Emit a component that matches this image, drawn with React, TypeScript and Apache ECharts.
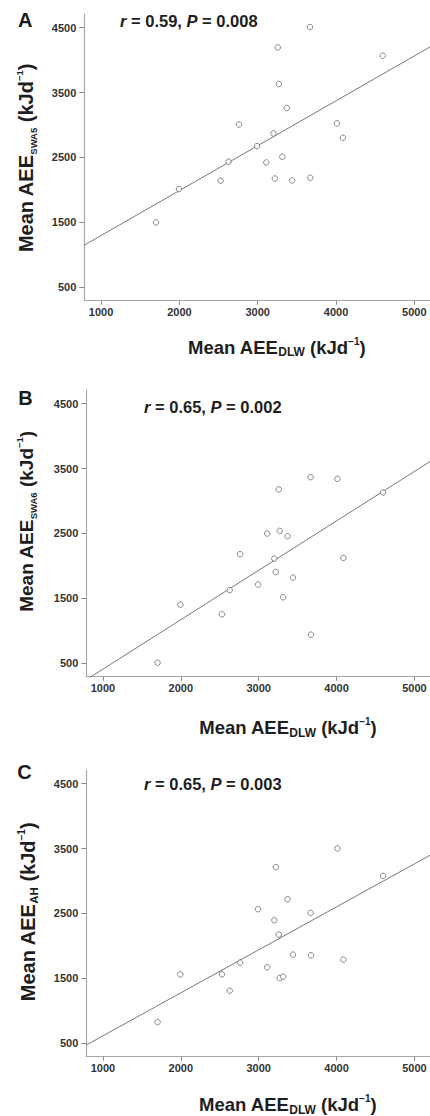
import React, { useEffect, useRef } from "react";
import * as echarts from "echarts";

// ---- data ----
const dlw = [3667, 3257, 4597, 3269, 3370, 2761, 4011, 4087, 3201, 2992, 2628, 3314, 3109, 2527, 3219, 3440, 3672, 1994, 1701];
const swa5 = [4511, 4196, 4068, 3632, 3261, 3008, 3024, 2803, 2870, 2675, 2433, 2510, 2422, 2140, 2175, 2145, 2186, 2012, 1497];
const swa6 = [3368, 3178, 3132, 2539, 2457, 2179, 3342, 2122, 2112, 1711, 1627, 1515, 2498, 1252, 1905, 1819, 939, 1402, 506];
const ah = [2508, 2173, 3079, 1504, 2719, 1742, 3502, 1788, 2395, 2565, 1309, 1525, 1669, 1561, 3213, 1865, 1854, 1561, 824];

const xTicks = [1000, 2000, 3000, 4000, 5000];
const yTicks = [500, 1500, 2500, 3500, 4500];
const panelLetters = ["A", "B", "C"];
const statR = ["0.59", "0.65", "0.65"];
const statP = ["0.008", "0.002", "0.003"];
const ySubs = ["SWA5", "SWA6", "AH"];

const X_MIN = 786;
const X_MAX = 5200;
const Y_MIN = 290;
const Y_MAX = 4712;

const FONT = "'Liberation Sans', Arial, Helvetica, sans-serif";

function fit(xs: number[], ys: number[]) {
  const n = xs.length;
  const mx = xs.reduce((a, b) => a + b, 0) / n;
  const my = ys.reduce((a, b) => a + b, 0) / n;
  let sxy = 0;
  let sxx = 0;
  for (let i = 0; i < n; i++) {
    sxy += (xs[i] - mx) * (ys[i] - my);
    sxx += (xs[i] - mx) * (xs[i] - mx);
  }
  const b = sxy / sxx;
  return { a: my - b * mx, b };
}

export default function App() {
  const ref = useRef<HTMLDivElement>(null);

  useEffect(() => {
    if (!ref.current) return;
    const chart = echarts.init(ref.current, undefined, { renderer: "svg" });

    const ySets = [swa5, swa6, ah];
    const grids = [
      { left: 84.3, top: 14, width: 351, height: 286.7 },
      { left: 86.3, top: 390, width: 351, height: 286.7 },
      { left: 86.3, top: 770, width: 351, height: 286.7 },
    ];

    const labelStyle = {
      fontSize: 11,
      fontWeight: "bold",
      fontFamily: FONT,
      color: "#333",
      formatter: (v: number) => String(v),
    };

    const xAxes = grids.map((_, i) => ({
      type: "value",
      gridIndex: i,
      min: X_MIN,
      max: X_MAX,
      splitLine: { show: false },
      axisLine: { show: true, lineStyle: { color: "#a8a8a8", width: 1.2 } },
      axisTick: { show: true, length: 4, customValues: xTicks, lineStyle: { color: "#888", width: 1 } },
      axisLabel: { ...labelStyle, customValues: xTicks, margin: 6 },
    }));

    const yAxes = grids.map((_, i) => ({
      type: "value",
      gridIndex: i,
      min: Y_MIN,
      max: Y_MAX,
      splitLine: { show: false },
      axisLine: { show: true, lineStyle: { color: "#a8a8a8", width: 1.2 } },
      axisTick: { show: true, length: 5, customValues: yTicks, lineStyle: { color: "#888", width: 1 } },
      axisLabel: { ...labelStyle, customValues: yTicks, margin: 8 },
    }));

    const series: any[] = [];
    ySets.forEach((ys, i) => {
      const { a, b } = fit(dlw, ys);
      series.push({
        type: "line",
        xAxisIndex: i,
        yAxisIndex: i,
        data: [
          [X_MIN, a + b * X_MIN],
          [X_MAX, a + b * X_MAX],
        ],
        showSymbol: false,
        clip: true,
        lineStyle: { color: "#777", width: 1 },
        z: 2,
      });
      series.push({
        type: "scatter",
        xAxisIndex: i,
        yAxisIndex: i,
        data: dlw.map((x, k) => [x, ys[k]]),
        symbol: "circle",
        symbolSize: 5.5,
        itemStyle: { color: "#fff", borderColor: "#6a6a6a", borderWidth: 1 },
        z: 3,
      });
    });

    const tok = (size: number, extra: any = {}) => ({
      fontFamily: FONT,
      fontWeight: "bold",
      fontSize: size,
      fill: "#1e1e1e",
      color: "#1e1e1e",
      ...extra,
    });

    const graphics: any[] = [];

    // panel letters
    const letterPos = [
      [18, 20],
      [18.3, 398],
      [17.3, 772.3],
    ];
    panelLetters.forEach((L, i) => {
      graphics.push({
        type: "text",
        x: letterPos[i][0],
        y: letterPos[i][1],
        style: {
          text: L,
          fontFamily: FONT,
          fontWeight: "bold",
          fontSize: 20,
          fill: "#1a1a1a",
          align: "left",
          textAlign: "left",
          verticalAlign: "middle",
          textVerticalAlign: "middle",
        },
      });
    });

    // stats annotations
    const statPos = [
      [120, 21.4],
      [144, 406.5],
      [144, 784.2],
    ];
    statR.forEach((r, i) => {
      graphics.push({
        type: "text",
        x: statPos[i][0],
        y: statPos[i][1],
        style: {
          text: `{i|r}{m| = ${r}, }{i|P}{m| = ${statP[i]}}`,
          align: "left",
          textAlign: "left",
          verticalAlign: "middle",
          textVerticalAlign: "middle",
          rich: {
            i: tok(16.5, { fontStyle: "italic", lineHeight: 20, verticalAlign: "middle" }),
            m: tok(16.5, { lineHeight: 20, verticalAlign: "middle" }),
          },
        },
      });
    });

    // x-axis titles
    const xTitlePos = [
      [276.7, 347],
      [287.8, 727.7],
      [287.7, 1104.5],
    ];
    xTitlePos.forEach((p) => {
      graphics.push({
        type: "text",
        x: p[0],
        y: p[1],
        style: {
          text: "{m|Mean AEE}{s|DLW}{m| (kJd}{p|\u22121}{m|)}",
          align: "center",
          textAlign: "center",
          verticalAlign: "middle",
          textVerticalAlign: "middle",
          rich: {
            m: tok(18.5, { lineHeight: 22, verticalAlign: "middle" }),
            s: tok(12, { lineHeight: 13.4, verticalAlign: "bottom" }),
            p: tok(10, { lineHeight: 13.8, verticalAlign: "top" }),
          },
        },
      });
    });

    // y-axis titles (rotated)
    const yTitleCfg = [
      { x: 26.3, y: 158, F: 20, s: 9.5, hs: 16.6, p: 9.5, hp: 10.3 },
      { x: 26.7, y: 521.5, F: 19, s: 9.5, hs: 17.4, p: 9.5, hp: 11 },
      { x: 28, y: 912, F: 20, s: 11.5, hs: 18, p: 10, hp: 11.4 },
    ];
    yTitleCfg.forEach((c, i) => {
      graphics.push({
        type: "text",
        x: c.x,
        y: c.y,
        rotation: Math.PI / 2,
        style: {
          text: `{m|Mean AEE}{s|${ySubs[i]}}{m| (kJd}{p|\u22121}{m|)}`,
          align: "center",
          textAlign: "center",
          verticalAlign: "middle",
          textVerticalAlign: "middle",
          rich: {
            m: tok(c.F, { lineHeight: 24, verticalAlign: "middle" }),
            s: tok(c.s, { lineHeight: c.hs, verticalAlign: "bottom" }),
            p: tok(c.p, { lineHeight: c.hp, verticalAlign: "top" }),
          },
        },
      });
    });

    chart.setOption({
      animation: false,
      backgroundColor: "#fff",
      grid: grids,
      xAxis: xAxes,
      yAxis: yAxes,
      series,
      graphic: { elements: graphics },
    });

    return () => {
      chart.dispose();
    };
  }, []);

  return (
    <div
      ref={ref}
      style={{ position: "absolute", left: 0, top: 0, width: 430, height: 1116, overflow: "hidden" }}
    />
  );
}
